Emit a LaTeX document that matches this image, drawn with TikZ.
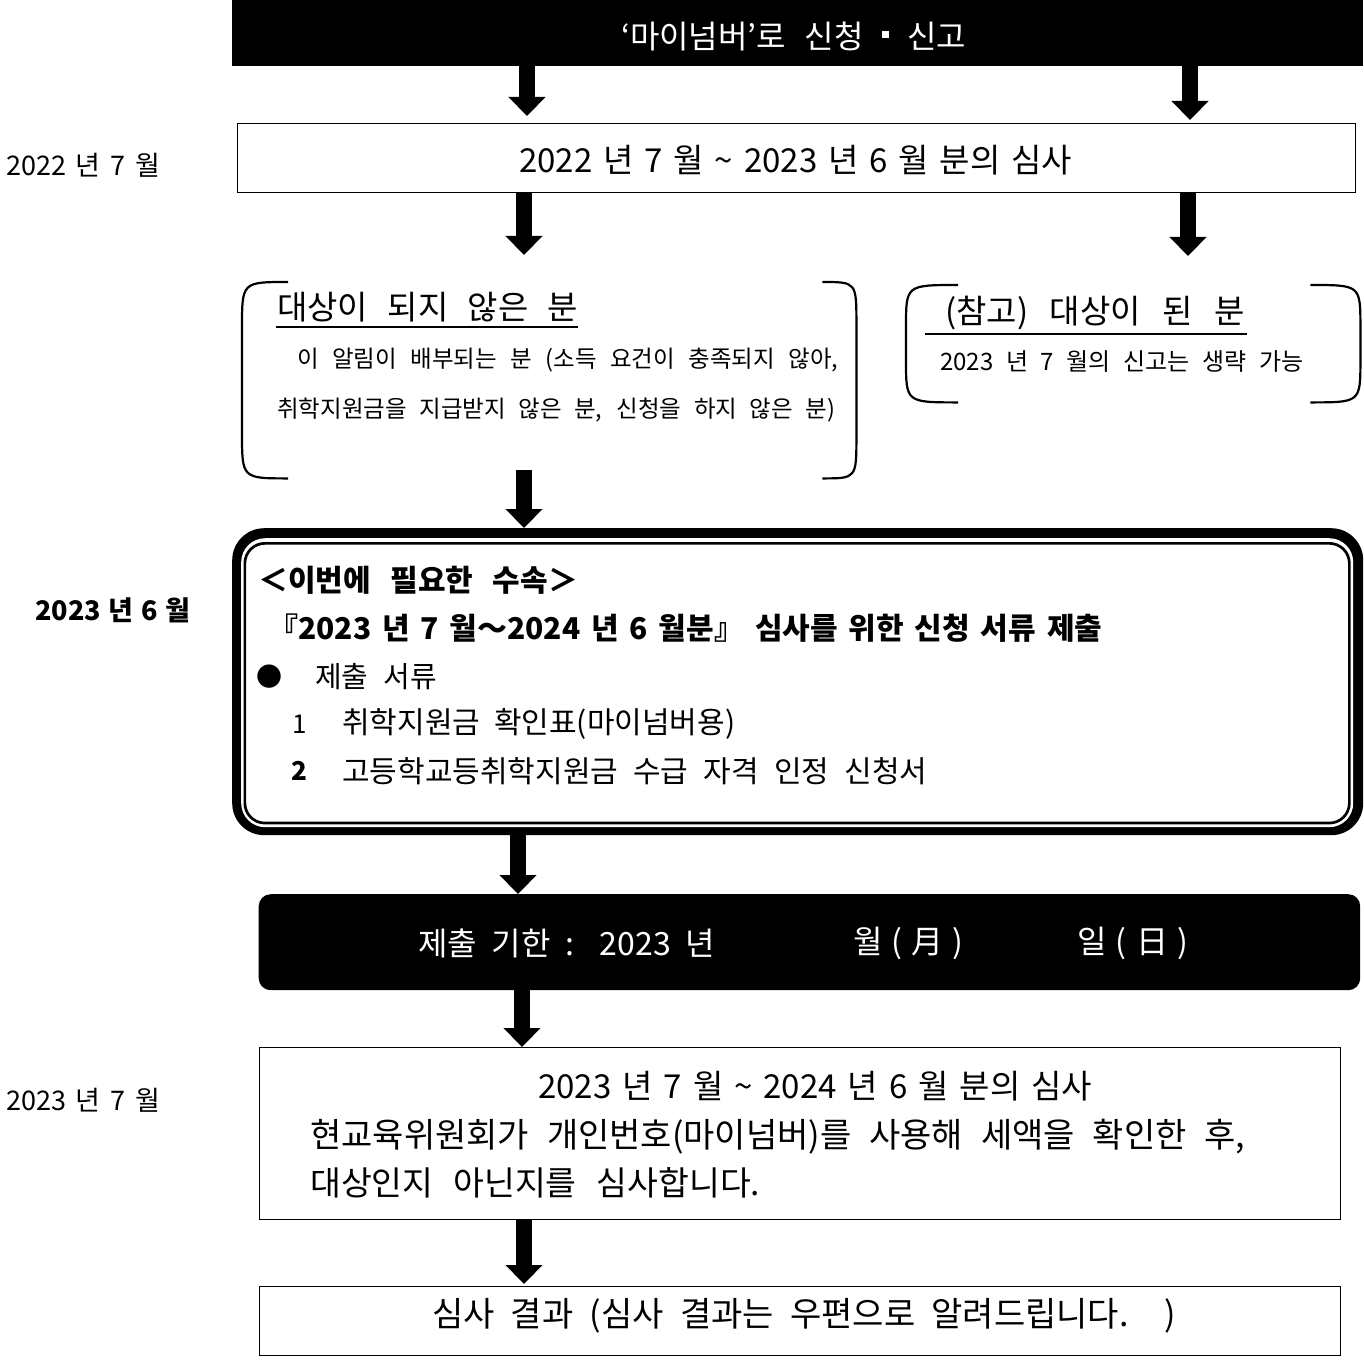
\documentclass[tikz,border=0pt]{standalone}
\usepackage{fontspec}
\setmainfont{Noto Sans CJK KR}
\usetikzlibrary{arrows.meta}
\newcommand\fitw[2]{\makebox[#1][s]{#2}}
\newcommand\fsz[1]{\fontsize{#1}{#1}\selectfont}
\begin{document}
\begin{tikzpicture}[x=1pt,y=-1pt,
  blk/.style={line width=16pt,-{Triangle[width=36pt,length=19pt]}},
  frame/.style={draw=black,line width=1.3pt,anchor=north west,inner sep=0pt},
  area/.style={anchor=north west,inner sep=0pt},
  paren/.style={line width=2.2pt},
  txt/.style={anchor=west,inner sep=0pt},
  ul/.style={line width=2.2pt}]
\useasboundingbox (0,0) rectangle (1363,1364);
\fill[white] (0,0) rectangle (1363,1364);

% ---- boxes ----
\node[area,fill=black,minimum width=1131pt,minimum height=66pt] (top) at (232,0) {};
\node[frame,minimum width=1118pt,minimum height=69pt] (box2) at (237,123) {};
\node[area,minimum width=614pt,minimum height=196pt] (lbox) at (242,282) {};
\node[area,minimum width=454pt,minimum height=117pt] (rbox) at (906,285) {};
\node[area,fill=black,rounded corners=32pt,minimum width=1131pt,minimum height=307pt] (dbox) at (232,528) {};
\node[area,fill=white,rounded corners=24pt,minimum width=1112pt,minimum height=289pt] (dboxw) at (241,538) {};
\node[area,draw=black,line width=2.7pt,rounded corners=20pt,minimum width=1104.5pt,minimum height=279.7pt] (dboxi) at (243.5,542) {};
\node[area,fill=black,rounded corners=12pt,minimum width=1101.5pt,minimum height=96pt] (bar) at (258.5,894) {};
\node[frame,minimum width=1081pt,minimum height=172pt] (box3) at (259,1047) {};
\node[frame,minimum width=1081pt,minimum height=69pt] (box4) at (259,1286) {};

% ---- parentheses ----
\draw[paren] ([xshift=46pt]lbox.north west) .. controls (lbox.north west) .. ([yshift=-46pt]lbox.north west)
  -- ([yshift=46pt]lbox.south west) .. controls (lbox.south west) .. ([xshift=46pt]lbox.south west);
\draw[paren] ([xshift=-34pt]lbox.north east) .. controls (lbox.north east) .. ([yshift=-42pt]lbox.north east)
  -- ([yshift=42pt]lbox.south east) .. controls (lbox.south east) .. ([xshift=-34pt]lbox.south east);
\draw[paren] ([xshift=52pt]rbox.north west) .. controls (rbox.north west) .. ([yshift=-42pt]rbox.north west)
  -- ([yshift=42pt]rbox.south west) .. controls (rbox.south west) .. ([xshift=52pt]rbox.south west);
\draw[paren] ([xshift=-50pt]rbox.north east) .. controls (rbox.north east) .. ([yshift=-42pt]rbox.north east)
  -- ([yshift=42pt]rbox.south east) .. controls (rbox.south east) .. ([xshift=-50pt]rbox.south east);

% ---- arrows ----
\coordinate (a1) at (527,0);
\coordinate (a2) at (1190,0);
\coordinate (a3) at (524,0);
\coordinate (a4) at (1188,0);
\coordinate (a5) at (524,0);
\coordinate (a6) at (518,0);
\coordinate (a7) at (522,0);
\coordinate (a8) at (524,0);
\draw[blk,shorten >=7pt] (top.south -| a1) -- (box2.north -| a1);
\draw[blk,shorten >=3pt] (top.south -| a2) -- (box2.north -| a2);
\draw[blk,shorten >=27pt] (box2.south -| a3) -- (lbox.north -| a3);
\draw[blk,shorten >=29pt] (box2.south -| a4) -- (rbox.north -| a4);
\draw[blk,shorten <=-8pt] (lbox.south -| a5) -- (dbox.north -| a5);
\draw[blk] (dbox.south -| a6) -- (bar.north -| a6);
\draw[blk] (bar.south -| a7) -- (box3.north -| a7);
\draw[blk,shorten >=2pt] (box3.south -| a8) -- (box4.north -| a8);

% ---- texts ----
\node[txt,text=white,font=\fsz{32pt}] (ttop) at (621,36) {\fitw{345pt}{‘마이넘버’로 신청 \raisebox{0.3em}{\rule{0.22em}{0.22em}} 신고}};
\node[txt,font=\fsz{33pt}] (t2) at (519,160) {\fitw{553pt}{2022 년 7 월 \textasciitilde{} 2023 년 6 월 분의 심사}};
\node[txt,font=\fsz{27pt}] (lab1) at (6,165) {\fitw{154pt}{2022 년 7 월}};
\node[txt,font=\fsz{27pt}\bfseries] (lab2) at (35,610) {\fitw{155pt}{2023 년 6 월}};
\node[txt,font=\fsz{27pt}] (lab3) at (6,1100) {\fitw{154pt}{2023 년 7 월}};

\node[txt,font=\fsz{33pt}] (ltitle) at (277,307) {\fitw{301pt}{대상이 되지 않은 분}};
\draw[ul] (276,327) -- (578,327);
\node[txt,font=\fsz{23.5pt}] (lb1) at (297,360) {\fitw{541pt}{이 알림이 배부되는 분 (소득 요건이 충족되지 않아,}};
\node[txt,font=\fsz{23.5pt}] (lb2) at (277,410) {\fitw{558pt}{취학지원금을 지급받지 않은 분, 신청을 하지 않은 분)}};

\node[txt,font=\fsz{33pt}] (rtitle) at (945,313) {\fitw{300pt}{(참고) 대상이 된 분}};
\draw[ul] (925,334) -- (1247,334);
\node[txt,font=\fsz{24pt}] (rb1) at (940,362) {\fitw{363pt}{2023 년 7 월의 신고는 생략 가능}};

\node[txt,font=\fsz{30pt}\bfseries] (d1) at (258,580) {\fitw{320pt}{＜이번에 필요한 수속＞}};
\node[txt,font=\fsz{30pt}\bfseries] (d2) at (268,628) {\fitw{834pt}{『2023 년 7 월〜2024 년 6 월분』 심사를 위한 신청 서류 제출}};
\node[txt,font=\fsz{26pt}] (bul) at (256,677) {●};
\node[txt,font=\fsz{29pt}] (d3) at (315,677) {\fitw{122pt}{제출 서류}};
\node[txt,font=\fsz{26pt}] (n1) at (292,724) {1};
\node[txt,font=\fsz{26pt}\bfseries] (n2) at (291,771) {2};
\node[txt,font=\fsz{30pt}] (d4) at (342,724) {\fitw{393pt}{취학지원금 확인표(마이넘버용)}};
\node[txt,font=\fsz{30pt}] (d5) at (342,771) {\fitw{585pt}{고등학교등취학지원금 수급 자격 인정 신청서}};

\node[txt,text=white,font=\fsz{32pt}] (b1) at (418,943) {\fitw{297pt}{제출 기한 : 2023 년}};
\node[txt,text=white,font=\fsz{32pt}] (b2) at (853,943) {\fitw{110pt}{월 ( 月 )}};
\node[txt,text=white,font=\fsz{32pt}] (b3) at (1077,943) {\fitw{111pt}{일 ( 日 )}};

\node[txt,font=\fsz{33pt}] (c1) at (538,1086) {\fitw{554pt}{2023 년 7 월 \textasciitilde{} 2024 년 6 월 분의 심사}};
\node[txt,font=\fsz{34pt}] (c2) at (310,1137) {\fitw{935pt}{현교육위원회가 개인번호(마이넘버)를 사용해 세액을 확인한 후,}};
\node[txt,font=\fsz{33.5pt}] (c3) at (310,1183) {\fitw{450pt}{대상인지 아닌지를 심사합니다.}};

\node[txt,font=\fsz{34pt}] (e1) at (432,1316) {\fitw{744pt}{심사 결과 (심사 결과는 우편으로 알려드립니다. )}};
\end{tikzpicture}
\end{document}
